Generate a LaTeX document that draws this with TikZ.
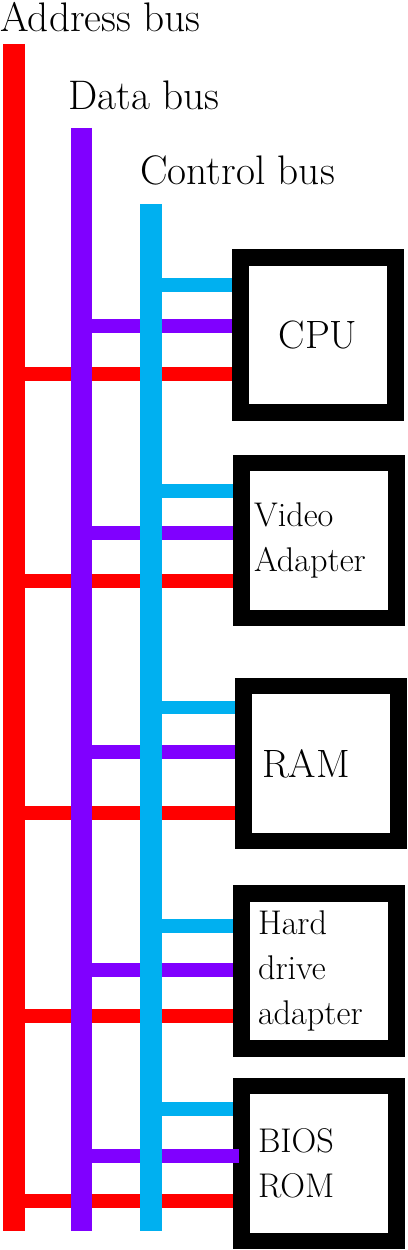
\documentclass[tikz,border=0pt]{standalone}
\usepackage{tikz}
\usetikzlibrary{positioning}
\definecolor{addrred}{RGB}{255,0,0}
\definecolor{datapurple}{RGB}{128,0,255}
\definecolor{ctrlblue}{RGB}{0,176,240}
\begin{document}
\begin{tikzpicture}[
  x=0.02cm, y=-0.02cm,
  every node/.style={font=\fontsize{19.5}{25.5}\selectfont},
  bus/.style={line width=0.44cm},
  tap/.style={line width=0.27cm},
  unit/.style={rectangle,draw,line width=0.33cm,minimum width=3.11cm,minimum height=3.11cm,align=left,text width=2.5cm},
  title/.style={anchor=base west,inner sep=0pt,font=\fontsize{23.5}{28}\selectfont},
]
  \useasboundingbox (0,0) rectangle (407,1250);

  \node[title] (AT) at (0,32) {Address bus};
  \node[title] (DT) at (68,110) {Data bus};
  \node[title] (CT) at (140,185) {Control bus};

  \coordinate (A) at (14,44);
  \coordinate (Aend) at (14,1231);
  \coordinate (D) at (81.5,128);
  \coordinate (Dend) at (81.5,1231);
  \coordinate (C) at (150.5,204);
  \coordinate (Cend) at (150.5,1231);

  \node[unit,align=center,font=\fontsize{22.5}{27}\selectfont] (CPU) at (318,335) {CPU};
  \node[unit,text width=2.6cm] (VID) at (319,540.5) {Video\\Adapter};
  \node[unit,text width=2.36cm,font=\fontsize{22.5}{27}\selectfont] (RAM) at (321,763.5) {RAM};
  \node[unit,text width=2.44cm] (HDD) at (319,971) {Hard\\drive\\adapter};
  \node[unit,text width=2.44cm] (BIOS) at (319,1163.5) {BIOS\\ROM};

  % taps under the buses
  \draw[tap,ctrlblue] (C |- 0,285) -- (CPU.west |- 0,285);
  \draw[tap,datapurple] (D |- 0,326) -- (CPU.west |- 0,326);
  \draw[tap,addrred] (A |- 0,374) -- (CPU.west |- 0,374);

  \draw[tap,ctrlblue] (C |- 0,491) -- (VID.west |- 0,491);
  \draw[tap,datapurple] (D |- 0,533) -- (VID.west |- 0,533);
  \draw[tap,addrred] (A |- 0,581) -- (VID.west |- 0,581);

  \draw[tap,ctrlblue] (C |- 0,707.5) -- (RAM.west |- 0,707.5);
  \draw[tap,datapurple] (D |- 0,752) -- (RAM.west |- 0,752);
  \draw[tap,addrred] (A |- 0,813) -- (RAM.west |- 0,813);

  \draw[tap,ctrlblue] (C |- 0,926) -- (HDD.west |- 0,926);
  \draw[tap,datapurple] (D |- 0,970) -- (HDD.west |- 0,970);
  \draw[tap,addrred] (A |- 0,1016) -- (HDD.west |- 0,1016);

  \draw[tap,ctrlblue] (C |- 0,1109) -- (BIOS.west |- 0,1109);
  \draw[tap,datapurple] (D |- 0,1156) -- ([xshift=0.12cm]BIOS.west |- 0,1156);
  \draw[tap,addrred] (A |- 0,1201) -- (BIOS.west |- 0,1201);

  % buses
  \draw[bus,addrred] (A) -- (Aend);
  \draw[bus,datapurple] (D) -- (Dend);
  \draw[bus,ctrlblue] (C) -- (Cend);
\end{tikzpicture}
\end{document}
